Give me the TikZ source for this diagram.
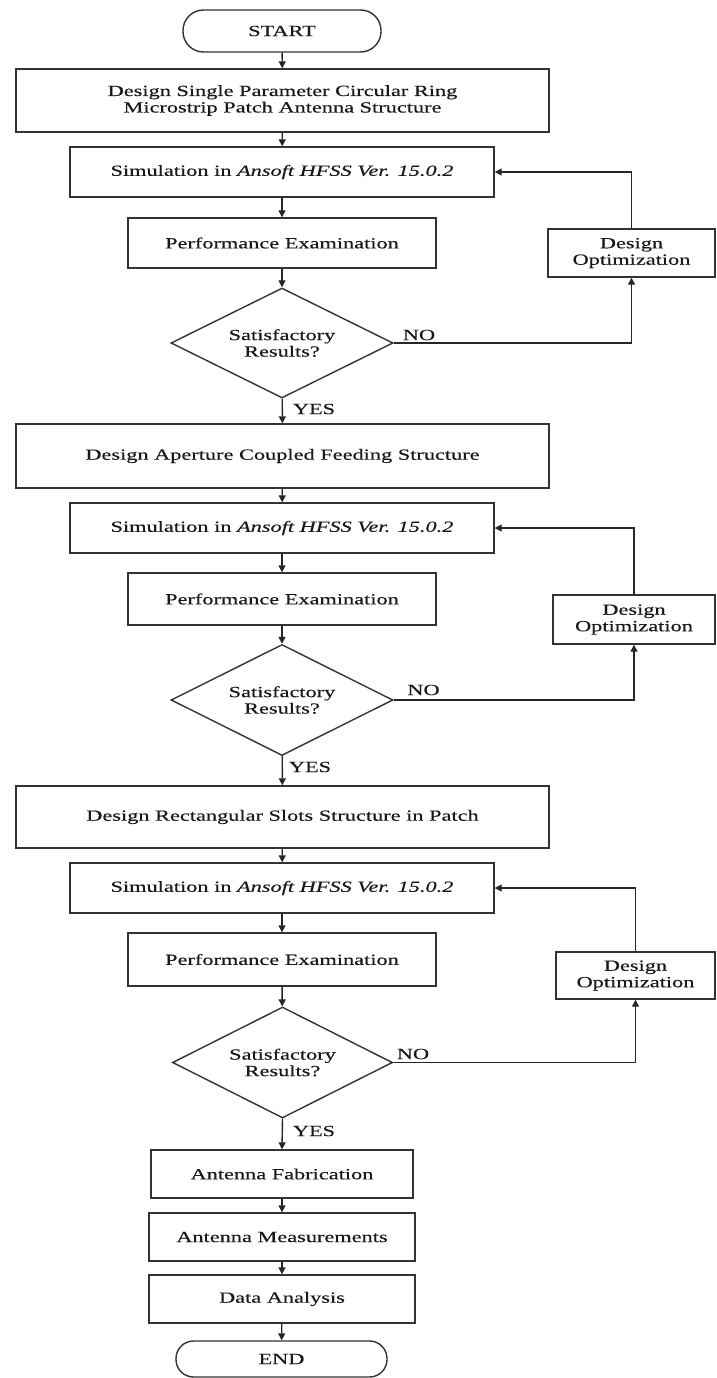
\documentclass[tikz,border=0pt]{standalone}
\usepackage{fontspec}
\setmainfont{Liberation Serif}[FakeStretch=1.44,FakeBold=0.3]
\usetikzlibrary{arrows.meta,shapes.geometric}
\begin{document}
\begin{tikzpicture}[x=1pt,y=-1pt,
  every node/.style={font=\fontsize{15.5}{16.5}\selectfont, text=black!90},
  box/.style={draw=black!80, line width=1.4pt, rectangle, inner sep=2pt, align=center},
  term/.style={draw=black!80, line width=1.4pt, rectangle, inner sep=2pt},
  decision/.style={draw=black!80, line width=1.4pt, diamond, aspect=2, inner sep=0pt, align=center, minimum width=222pt, minimum height=110pt},
  lbl/.style={inner sep=0pt},
  conn/.style={draw=black!85, line width=1.4pt, -{Triangle[length=7pt,width=7pt]}}
]
\useasboundingbox (0,0) rectangle (716,1378);
\fill[white] (0,0) rectangle (716,1378);

% column nodes
\node[term, rounded corners=20.5pt, minimum width=198pt, minimum height=42pt] (start) at (282,31) {START};
\node[box, minimum width=533pt, minimum height=63pt] (b1) at (282.5,100.5) {Design Single Parameter Circular Ring\\Microstrip Patch Antenna Structure};
\node[box, minimum width=424pt, minimum height=50pt] (s1) at (282,172) {Simulation in \textit{Ansoft HFSS Ver. 15.0.2}};
\node[box, minimum width=308pt, minimum height=50pt] (p1) at (282,243) {Performance Examination};
\node[decision] (d1) at (282,343) {Satisfactory\\Results?};
\node[box, minimum width=167pt, minimum height=48pt] (o1) at (631.5,253) {Design\\Optimization};

\node[box, minimum width=533pt, minimum height=64pt] (b2) at (282.5,456) {Design Aperture Coupled Feeding Structure};
\node[box, minimum width=424pt, minimum height=50pt] (s2) at (282,528) {Simulation in \textit{Ansoft HFSS Ver. 15.0.2}};
\node[box, minimum width=308pt, minimum height=52pt] (p2) at (282,599) {Performance Examination};
\node[decision, minimum height=111pt] (d2) at (282,700) {Satisfactory\\Results?};
\node[box, minimum width=162pt, minimum height=49pt] (o2) at (634,619.5) {Design\\Optimization};

\node[box, minimum width=533pt, minimum height=62pt] (b3) at (282.5,817) {Design Rectangular Slots Structure in Patch};
\node[box, minimum width=424pt, minimum height=50pt] (s3) at (282,888) {Simulation in \textit{Ansoft HFSS Ver. 15.0.2}};
\node[box, minimum width=308pt, minimum height=53pt] (p3) at (282,959.5) {Performance Examination};
\node[decision, minimum width=220pt, minimum height=111pt] (d3) at (282.5,1062.5) {Satisfactory\\Results?};
\node[box, minimum width=159pt, minimum height=47pt] (o3) at (635.5,975.5) {Design\\Optimization};

\node[box, minimum width=262pt, minimum height=48pt] (fab) at (282,1174) {Antenna Fabrication};
\node[box, minimum width=266pt, minimum height=48pt] (meas) at (282,1237) {Antenna Measurements};
\node[box, minimum width=266pt, minimum height=48pt] (ana) at (282,1299) {Data Analysis};
\node[term, rounded corners=17.5pt, minimum width=211pt, minimum height=36pt] (end) at (281.5,1359) {END};

% main flow
\draw[conn] (start) -- (b1);
\draw[conn] (b1) -- (s1);
\draw[conn] (s1) -- (p1);
\draw[conn] (p1) -- (d1);
\draw[conn] (d1) -- (b2);
\draw[conn] (b2) -- (s2);
\draw[conn] (s2) -- (p2);
\draw[conn] (p2) -- (d2);
\draw[conn] (d2) -- (b3);
\draw[conn] (b3) -- (s3);
\draw[conn] (s3) -- (p3);
\draw[conn] (p3) -- (d3);
\draw[conn] (d3.south) -- (fab.north);
\draw[conn] (fab) -- (meas);
\draw[conn] (meas) -- (ana);
\draw[conn] (ana) -- (end);

% loops
\draw[conn] (d1.east) -| (o1.south);
\draw[conn] (o1.north) |- (s1.east);
\draw[conn] (d2.east) -| (o2.south);
\draw[conn] (o2.north) |- (s2.east);
\draw[conn] (d3.east) -| (o3.south);
\draw[conn] (o3.north) |- (s3.east);

% labels
\node[lbl] (no1) at (419,335) {NO};
\node[lbl] (yes1) at (314,409) {YES};
\node[lbl] (no2) at (423.5,690) {NO};
\node[lbl] (yes2) at (310,767) {YES};
\node[lbl] (no3) at (413,1054) {NO};
\node[lbl] (yes3) at (314,1131) {YES};
\end{tikzpicture}
\end{document}
